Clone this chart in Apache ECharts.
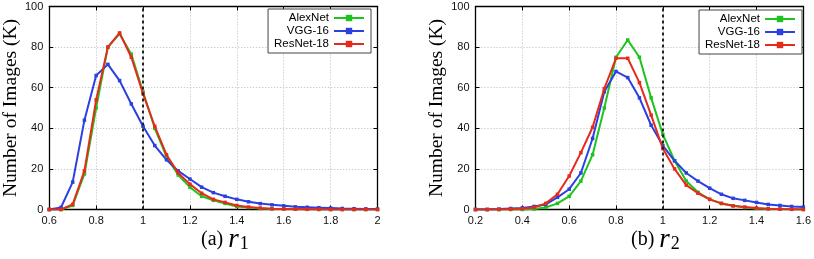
<!DOCTYPE html>
<html><head><meta charset="utf-8">
<script src="https://cdn.jsdelivr.net/npm/echarts@6/dist/echarts.min.js"></script>
<style>html,body{margin:0;padding:0;background:#fff}#c{width:814px;height:259px}</style>
</head><body><div id="c"></div>
<script>
// r1 panel
const r1X = [0.6,0.65,0.7,0.75,0.8,0.85,0.9,0.95,1.0,1.05,1.1,1.15,1.2,1.25,1.3,1.35,1.4,1.45,1.5,1.55,1.6,1.65,1.7,1.75,1.8,1.85,1.9,1.95,2.0];
const r1Alex = [0,0,2,17.5,50,80,86.5,76.5,58,40,26,17,11,6.5,4.5,3,1.5,1,0.5,0.3,0.2,0.1,0.1,0,0,0,0,0,0];
const r1VGG = [0,1,13.5,44,66,71.5,63.5,52,41,31.5,24.5,19,15,11,8.3,6.5,5,3.8,2.9,2.3,1.8,1.3,1.1,0.9,0.7,0.5,0.4,0.3,0.2];
const r1Res = [0,0,2.5,19,54,80,87,75,57,41,27,18,12.5,8,5,3.5,2,1.2,0.7,0.4,0.3,0.2,0.1,0.1,0,0,0,0,0];
// r2 panel
const r2X = [0.2,0.25,0.3,0.35,0.4,0.45,0.5,0.55,0.6,0.65,0.7,0.75,0.8,0.85,0.9,0.95,1.0,1.05,1.1,1.15,1.2,1.25,1.3,1.35,1.4,1.45,1.5,1.55,1.6];
const r2Alex = [0,0,0,0,0,0.2,1,3,6.5,14,27,50,75,83.5,75,55,37,24,14,8.5,5,3,1.8,1,0.5,0.3,0.2,0.1,0];
const r2VGG = [0,0,0.2,0.5,0.8,1.5,2.5,6,10,18,35,58,68,65,55,41.5,31.5,24,18,14,10.5,7.5,5.5,4.5,3.5,2.5,2,1.5,1.2];
const r2Res = [0,0,0,0.2,0.4,1,3,7.5,16.5,28,40.5,59.5,74.5,74.5,62.5,46.5,30,20,12,8,5,3,1.8,1.2,0.7,0.4,0.2,0.1,0];
const seriesNames = ['AlexNet','VGG-16','ResNet-18'];
const yTicks = [0,20,40,60,80,100];

const colors = ['#1ec41e','#2a40e0','#e62a1c'];
const zip = (xs, ys) => xs.map((x,i)=>[x, ys[i]]);

const gridDef = [
  {left:48.5, right:436.5, top:6.5, bottom:49.5},
  {left:475.5, right:9.5, top:6.5, bottom:49.5}
];
const lbl = {color:'#111',fontSize:11,fontFamily:'Liberation Sans',margin:6};
const split = {show:true,lineStyle:{color:'#bbb',type:[1,2],width:1}};
const tick = {show:true,inside:true,length:4,lineStyle:{color:'#000'}};
const line = {show:true,onZero:false,lineStyle:{color:'#000',width:1.3}};
function xAxes(gi, min, max){
  return [
    {type:'value', gridIndex:gi, min:min, max:max, interval:0.2, position:'bottom',
      axisLine:line, axisTick:tick, axisLabel:lbl, splitLine:split},
    {type:'value', gridIndex:gi, min:min, max:max, interval:0.2, position:'top',
      axisLine:line, axisTick:tick, axisLabel:{show:false}, splitLine:{show:false}}
  ];
}
function yAxes(gi){
  return [
    {type:'value', gridIndex:gi, min:yTicks[0], max:yTicks[yTicks.length-1], interval:20, position:'left',
      name:'Number of Images (K)', nameLocation:'middle', nameGap:27,
      nameTextStyle:{fontFamily:'Liberation Serif',fontSize:19.5,color:'#000'},
      axisLine:line, axisTick:tick, axisLabel:lbl, splitLine:split},
    {type:'value', gridIndex:gi, min:yTicks[0], max:yTicks[yTicks.length-1], interval:20, position:'right',
      axisLine:line, axisTick:tick, axisLabel:{show:false}, splitLine:{show:false}}
  ];
}
function mk(name, xs, ys, gi, ci, withMark){
  const s = {name:name, type:'line', xAxisIndex:gi*2, yAxisIndex:gi*2, data:zip(xs,ys),
    symbol:'rect', symbolSize:3.5, showSymbol:true,
    lineStyle:{width:2,color:colors[ci]}, itemStyle:{color:colors[ci]}, animation:false, z:3+(ci===2?1:0)};
  if(withMark){
    s.markLine = {silent:true, symbol:'none', label:{show:false}, animation:false,
      lineStyle:{color:'#222',type:[3,3],width:2}, data:[{xAxis:1}]};
  }
  return s;
}
const legendCommon = {orient:'vertical', align:'right', itemWidth:30, itemHeight:8, itemGap:1,
  backgroundColor:'#fff', borderColor:'#444', borderWidth:1, padding:[3,6,3,6],
  textStyle:{fontFamily:'Liberation Sans',fontSize:11.5,color:'#000',width:66,align:'right'}};
const capRich = {a:{fontFamily:'Liberation Serif',fontSize:20,fill:'#000'},
  i:{fontFamily:'Liberation Serif',fontStyle:'italic',fontSize:27,fill:'#000'},
  s:{fontFamily:'Liberation Serif',fontSize:18,fill:'#000',padding:[9,0,0,1]}};

const chart = echarts.init(document.getElementById('c'));
chart.setOption({
  animation:false,
  grid: gridDef.map(g=>Object.assign({show:false},g)),
  xAxis: xAxes(0,0.6,2).concat(xAxes(1,0.2,1.6)),
  yAxis: yAxes(0).concat(yAxes(1)),
  legend:[
    Object.assign({}, legendCommon, {right:443, top:9, data:seriesNames.map(n=>({name:n}))}),
    Object.assign({}, legendCommon, {right:12, top:10, data:seriesNames.map(n=>({name:n}))})
  ],
  series:[
    mk(seriesNames[0], r1X, r1Alex, 0, 0, true),
    mk(seriesNames[1], r1X, r1VGG, 0, 1, false),
    mk(seriesNames[2], r1X, r1Res, 0, 2, false),
    mk(seriesNames[0], r2X, r2Alex, 1, 0, true),
    mk(seriesNames[1], r2X, r2VGG, 1, 1, false),
    mk(seriesNames[2], r2X, r2Res, 1, 2, false)
  ],
  graphic:[
    {type:'text', left:201, top:226, style:{rich:capRich, text:'{a|(a) }{i|r}{s|1}'}},
    {type:'text', left:631, top:226, style:{rich:capRich, text:'{a|(b) }{i|r}{s|2}'}}
  ]
});
</script></body></html>
